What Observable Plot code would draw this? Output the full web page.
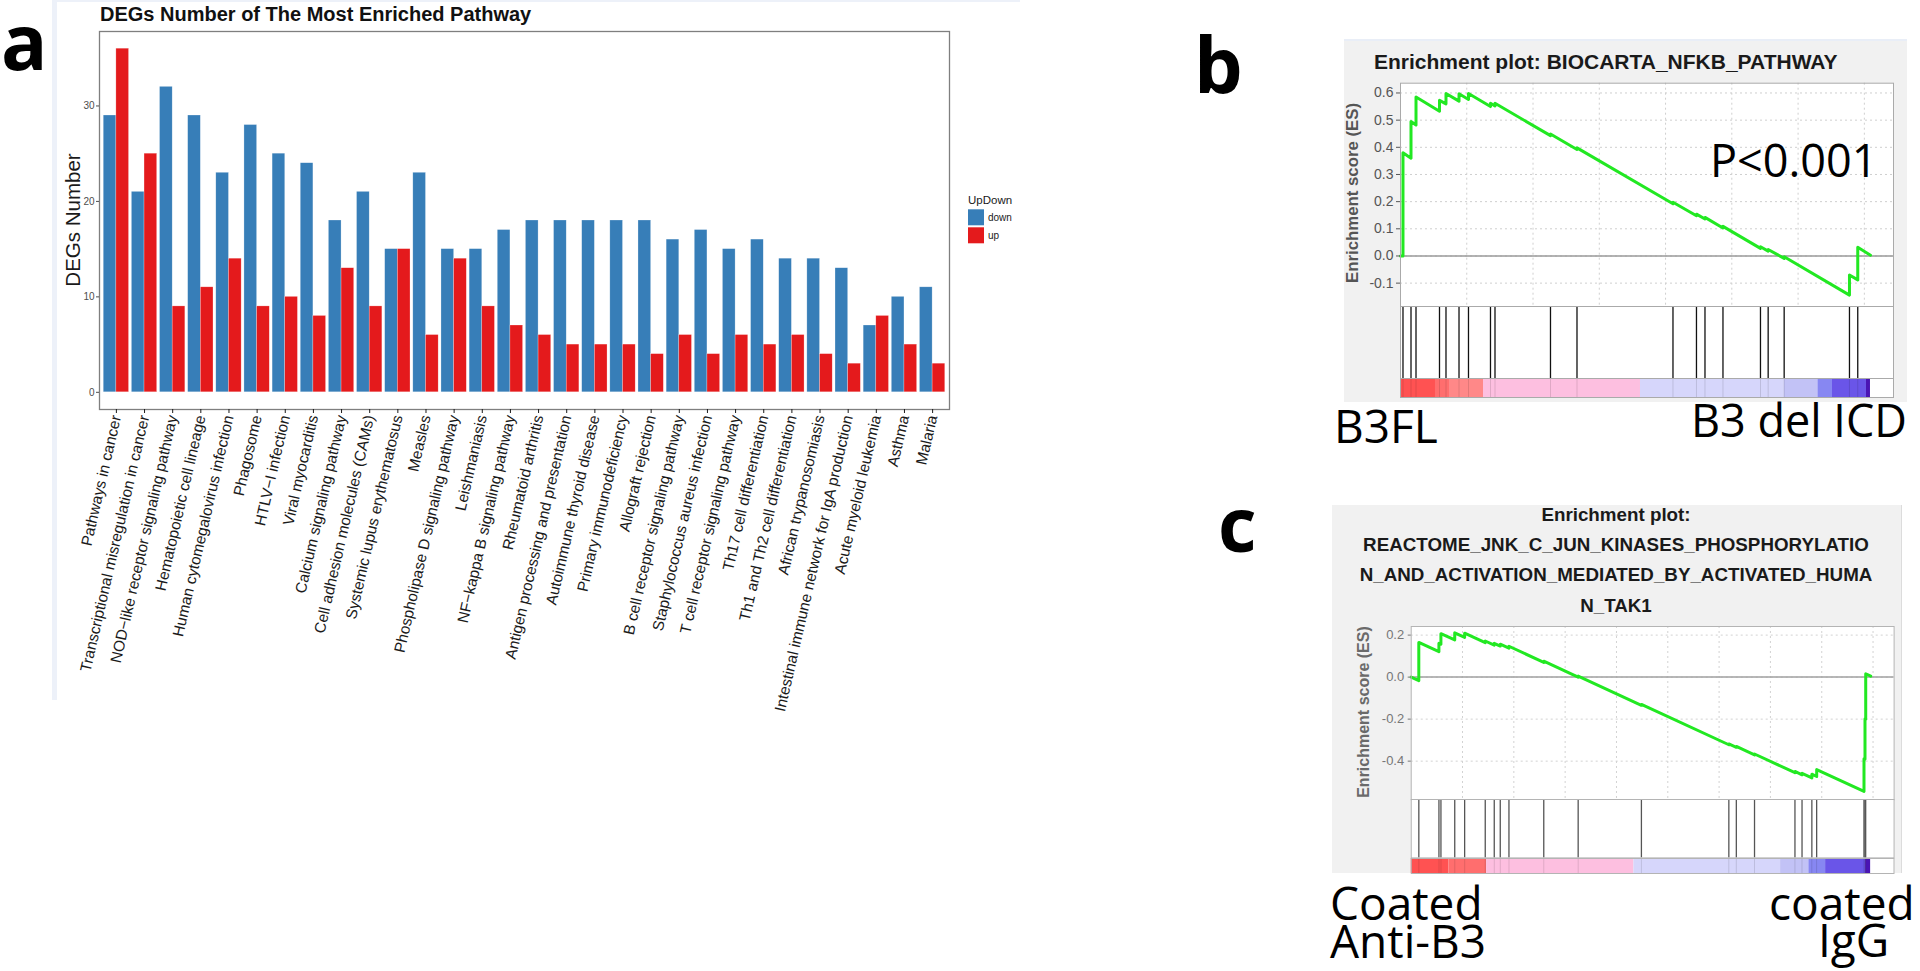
<!DOCTYPE html>
<html><head><meta charset="utf-8">
<script src="https://cdn.jsdelivr.net/npm/d3@7"></script>
<script src="https://cdn.jsdelivr.net/npm/@observablehq/plot@0.6"></script>
<style>
html,body{margin:0;padding:0;background:#fff;}
#root{position:relative;width:1920px;height:971px;overflow:hidden;font-family:"Liberation Sans",Arial,sans-serif;}
</style></head><body><div id="root"></div>
<script>
// ---------- Panel a data ----------
const categories = ["Pathways in cancer","Transcriptional misregulation in cancer","NOD\u2212like receptor signaling pathway","Hematopoietic cell lineage","Human cytomegalovirus infection","Phagosome","HTLV\u2212I infection","Viral myocarditis","Calcium signaling pathway","Cell adhesion molecules (CAMs)","Systemic lupus erythematosus","Measles","Phospholipase D signaling pathway","Leishmaniasis","NF\u2212kappa B signaling pathway","Rheumatoid arthritis","Antigen processing and presentation","Autoimmune thyroid disease","Primary immunodeficiency","Allograft rejection","B cell receptor signaling pathway","Staphylococcus aureus infection","T cell receptor signaling pathway","Th17 cell differentiation","Th1 and Th2 cell differentiation","African trypanosomiasis","Intestinal immune network for IgA production","Acute myeloid leukemia","Asthma","Malaria"];
const downCounts = [29,21,32,29,23,28,25,24,18,21,15,23,15,15,17,18,18,18,18,18,16,17,15,16,14,14,13,7,10,11];
const upCounts   = [36,25,9,11,14,9,10,8,13,9,15,6,14,9,7,6,5,5,5,4,6,4,6,5,6,4,3,8,5,3];
const groups = ["down","up"];
const groupColors = ["#377EB8","#E41A1C"];
const yTicksA = [0,10,20,30];

// ---------- Panel b data (GSEA running ES, BIOCARTA_NFKB_PATHWAY) ----------
const bRank = [0,75,75,317,317,468,468,1177,1177,1373,1373,1766,1766,2052,2052,2716,2716,2852,2852,4527,4527,5327,5327,8224,8224,8933,8933,9190,9190,9733,9733,10865,10865,11097,11097,11580,11580,13551,13551,13801,13801,14185];
const bES = [0,0,0.38,0.36,0.495,0.482,0.585,0.533,0.573,0.56,0.598,0.57,0.597,0.576,0.598,0.55,0.562,0.552,0.562,0.443,0.449,0.392,0.398,0.192,0.198,0.148,0.154,0.136,0.142,0.103,0.109,0.028,0.034,0.018,0.024,-0.009,-0.003,-0.144,-0.07,-0.088,0.032,0.003];
const bHits = [75,317,468,1177,1373,1766,2052,2716,2852,4527,5327,8224,8933,9190,9733,10865,11097,11580,13551,13801];
const bBarStart = [0,1056,1479,2505,7243,11580,12600,13038,14064];
const bBarEnd   = [1056,1479,2505,7243,11580,12600,13038,14064,14185];
const bBarLevel = ["pos3","pos2","pos1","pos0","neg0","neg1","neg2","neg3","neg4"];
const bYTicks = [-0.1,0,0.1,0.2,0.3,0.4,0.5,0.6];
const bGridX = [2000,4000,6000,8000,10000,12000,14000];
const bRankMax = 14880;

// ---------- Panel c data (GSEA running ES, REACTOME JNK) ----------
const cRank = [0,296,296,1080,1080,1158,1158,1696,1696,2082,2082,2885,2885,3236,3236,3470,3470,3809,3809,5166,5166,6507,6507,8972,8972,12380,12380,12672,12672,13381,13381,14957,14957,15233,15233,15616,15616,15803,15803,17647,17647,17686,17686,17714,17714,17909];
const cES = [0,-0.017,0.165,0.121,0.161,0.157,0.207,0.177,0.211,0.189,0.209,0.164,0.172,0.152,0.161,0.148,0.157,0.138,0.147,0.070,0.076,0.000,0.005,-0.134,-0.130,-0.322,-0.318,-0.334,-0.330,-0.370,-0.366,-0.455,-0.449,-0.465,-0.458,-0.480,-0.462,-0.473,-0.440,-0.544,-0.389,-0.391,-0.198,-0.200,0.016,0.005];
const cHits = [296,1080,1158,1696,2082,2885,3236,3470,3809,5166,6507,8972,12380,12672,13381,14957,15233,15616,15803,17647,17686,17714];
const cBarStart = [0,1466,2936,8679,14399,15502,16154,17714];
const cBarEnd   = [1466,2936,8679,14399,15502,16154,17714,17909];
const cBarLevel = ["pos3","pos2","pos0","neg0","neg1","neg2","neg3","neg4"];
const cYTicks = [-0.4,-0.2,0,0.2];
const cGridX = [2000,4000,6000,8000,10000,12000,14000,16000,18000];
const cRankMax = 18820;

const heatLevels = ["pos3","pos2","pos1","pos0","neg0","neg1","neg2","neg3","neg4"];
const heatColors = ["#ff5252","#ff6e6e","#ff8888","#fdbfe0","#d6d6fb","#c2c2f6","#8787f2","#6a55e8","#4a14b4"];

const SANS = '"Liberation Sans", Arial, sans-serif';
const BIG = '"Open Sans", "Noto Sans", sans-serif';
const root = document.getElementById("root");
function place(el, left, top){ el.style.position="absolute"; el.style.left=left+"px"; el.style.top=top+"px"; el.style.overflow="visible"; el.style.maxWidth="none"; root.appendChild(el); return el; }
function box(left, top, w, h, bg, extra){ const d=document.createElement("div"); d.style.cssText=`position:absolute;left:${left}px;top:${top}px;width:${w}px;height:${h}px;background:${bg};${extra||""}`; root.appendChild(d); return d; }

// ---------- Panel a ----------
const rows = categories.flatMap((c,i)=>[{i, g:"down", v: downCounts[i]},{i, g:"up", v: upCounts[i]}]);
const plotA = Plot.plot({
  width: 1020, height: 730,
  marginLeft: 99, marginRight: 71, marginTop: 31, marginBottom: 321,
  style: {fontFamily: SANS, background: "transparent", overflow: "visible"},
  x: {domain: [-0.6, categories.length - 0.4]},
  y: {domain: [-1.8, 37.8]},
  color: {domain: groups, range: groupColors},
  marks: [
    Plot.rectY(rows, {x1: d => d.i + (d.g === "down" ? -0.45 : 0), x2: d => d.i + (d.g === "down" ? 0 : 0.45), y: "v", fill: "g", stroke: "#ffffff", strokeWidth: 0.5, strokeOpacity: 0.5}),
    Plot.frame({stroke: "#7f7f7f", strokeWidth: 1.3}),
    Plot.axisY({ticks: yTicksA, tickSize: 3, tickPadding: 2, fontSize: 10, color: "#4d4d4d", label: null}),
    Plot.axisX({ticks: d3.range(categories.length), tickFormat: i => categories[i], tickRotate: -77, tickSize: 4, tickPadding: 2, fontSize: 15.4, color: "#1a1a1a", label: null})
  ]
});
place(plotA, 0, 0);

// ---------- Panel b ----------
box(1344, 39, 563, 363, "#f1f1f1", "border-top:2px solid #e9eef7;box-sizing:border-box;");
const bCurve = bRank.map((r,k)=>({rank:r, es:bES[k]}));
const bXs = {domain: [0, bRankMax], axis: null};
const esB = Plot.plot({
  width: 563, height: 231, marginLeft: 56, marginRight: 14, marginTop: 7.7, marginBottom: 0,
  style: {fontFamily: SANS, background: "transparent", overflow: "visible"},
  x: bXs, y: {domain: [-0.186, 0.636]},
  marks: [
    Plot.frame({fill: "white"}),
    Plot.gridX(bGridX, {stroke: "#cfcfcf", strokeOpacity: 1, strokeDasharray: "2,3"}),
    Plot.gridY(bYTicks, {stroke: "#cfcfcf", strokeOpacity: 1, strokeDasharray: "2,3"}),
    Plot.ruleY([0], {stroke: "#9a9a9a", strokeWidth: 1.5}),
    Plot.line(bCurve, {x: "rank", y: "es", stroke: "#22e822", strokeWidth: 3}),
    Plot.frame({stroke: "#aaaaaa"}),
    Plot.axisY({ticks: bYTicks, tickFormat: d => d.toFixed(1), fontSize: 14, color: "#555", tickSize: 4, tickPadding: 3, label: null})
  ]
});
place(esB, 1344, 75);
const hitB = Plot.plot({
  width: 563, height: 72, marginLeft: 56, marginRight: 14, marginTop: 0, marginBottom: 0,
  style: {background: "transparent", overflow: "visible"}, x: bXs,
  marks: [Plot.frame({fill: "white"}), Plot.ruleX(bHits, {stroke: "#111", strokeWidth: 1.3}), Plot.frame({stroke: "#aaaaaa"})]
});
place(hitB, 1344, 306);
const bBarRows = bBarStart.map((s,k)=>({start:s, end:bBarEnd[k], level:bBarLevel[k]}));
const barB = Plot.plot({
  width: 563, height: 22, marginLeft: 56, marginRight: 14, marginTop: 0, marginBottom: 3,
  style: {background: "transparent", overflow: "visible"}, x: bXs,
  color: {domain: heatLevels, range: heatColors},
  marks: [Plot.frame({fill: "white"}), Plot.rect(bBarRows, {x1: "start", x2: "end", fill: "level"}), Plot.ruleX(bHits, {stroke: "#000", strokeOpacity: 0.12}), Plot.frame({stroke: "#aaaaaa"})]
});
place(barB, 1344, 378);

// ---------- Panel c ----------
box(1332, 505, 570, 368.3, "#f1f1f1", "border-right:1px solid #dcdcdc;box-sizing:border-box;");
const cCurve = cRank.map((r,k)=>({rank:r, es:cES[k]}));
const cXs = {domain: [0, cRankMax], axis: null};
const esC = Plot.plot({
  width: 570, height: 179.3, marginLeft: 78.7, marginRight: 8.4, marginTop: 6, marginBottom: 0,
  style: {fontFamily: SANS, background: "transparent", overflow: "visible"},
  x: cXs, y: {domain: [-0.584, 0.241]},
  marks: [
    Plot.frame({fill: "white"}),
    Plot.gridX(cGridX, {stroke: "#d2d2d2", strokeOpacity: 1, strokeDasharray: "2,3"}),
    Plot.gridY(cYTicks, {stroke: "#d2d2d2", strokeOpacity: 1, strokeDasharray: "2,3"}),
    Plot.ruleY([0], {stroke: "#a0a0a0", strokeWidth: 1.5}),
    Plot.line(cCurve, {x: "rank", y: "es", stroke: "#22e822", strokeWidth: 3}),
    Plot.frame({stroke: "#b4b4b4"}),
    Plot.axisY({ticks: cYTicks, tickFormat: d => d.toFixed(1), fontSize: 13, color: "#777", tickSize: 3, tickPadding: 4, label: null})
  ]
});
place(esC, 1332, 620);
const hitC = Plot.plot({
  width: 570, height: 58.4, marginLeft: 78.7, marginRight: 8.4, marginTop: 0, marginBottom: 0,
  style: {background: "transparent", overflow: "visible"}, x: cXs,
  marks: [Plot.frame({fill: "white"}), Plot.ruleX(cHits, {stroke: "#555", strokeWidth: 1.3}), Plot.frame({stroke: "#b4b4b4"})]
});
place(hitC, 1332, 799.3);
const cBarRows = cBarStart.map((s,k)=>({start:s, end:cBarEnd[k], level:cBarLevel[k]}));
const barC = Plot.plot({
  width: 570, height: 15.6, marginLeft: 78.7, marginRight: 8.4, marginTop: 0, marginBottom: 0.6,
  style: {background: "transparent", overflow: "visible"}, x: cXs,
  color: {domain: heatLevels, range: heatColors},
  marks: [Plot.frame({fill: "white"}), Plot.rect(cBarRows, {x1: "start", x2: "end", fill: "level"}), Plot.ruleX(cHits, {stroke: "#000", strokeOpacity: 0.12}), Plot.frame({stroke: "#b4b4b4"})]
});
place(barC, 1332, 857.7);

// ---------- Text overlay ----------
const ov = d3.create("svg").attr("width",1920).attr("height",971)
  .style("position","absolute").style("left","0").style("top","0").style("pointer-events","none");
function txt(x, y, s, o){
  const t = ov.append("text").attr("x",x).attr("y",y).text(s)
    .attr("font-family", o.font || SANS).attr("font-size", o.size).attr("font-weight", o.weight || 400)
    .attr("fill", o.fill || "#000").attr("text-anchor", o.anchor || "start");
  if (o.rotate) t.attr("transform", `rotate(${o.rotate},${x},${y})`);
  return t;
}
// panel a decorations
ov.append("rect").attr("x",52).attr("y",0).attr("width",5).attr("height",700).attr("fill","#edf1f9");
ov.append("rect").attr("x",52).attr("y",0).attr("width",968).attr("height",2).attr("fill","#edf1f9");
txt(1, 70, "a", {font: BIG, size: 77, weight: 700});
txt(100, 21, "DEGs Number of The Most Enriched Pathway", {size: 20, weight: 700, fill: "#111"});
txt(79.5, 220, "DEGs Number", {size: 20.5, fill: "#1a1a1a", anchor: "middle", rotate: -90});
txt(968, 204, "UpDown", {size: 11.5, fill: "#1a1a1a"});
groups.forEach((g,k)=>{
  ov.append("rect").attr("x",968).attr("y",209.3 + k*18).attr("width",16).attr("height",16).attr("fill",groupColors[k]);
  txt(988, 221 + k*18, g, {size: 10, fill: "#1a1a1a"});
});
// panel b
txt(1194, 93, "b", {font: BIG, size: 77, weight: 700});
txt(1374, 69.3, "Enrichment plot: BIOCARTA_NFKB_PATHWAY", {size: 21, weight: 700, fill: "#1a1a1a"});
txt(1358, 193, "Enrichment score (ES)", {size: 16.8, weight: 700, fill: "#555", anchor: "middle", rotate: -90});
txt(1710, 177, "P<0.001", {font: BIG, size: 45});
txt(1334, 443, "B3FL", {font: BIG, size: 46});
txt(1691, 437, "B3 del ICD", {font: BIG, size: 45});
// panel c
txt(1218, 552, "c", {font: BIG, size: 75, weight: 700});
["Enrichment plot:","REACTOME_JNK_C_JUN_KINASES_PHOSPHORYLATIO","N_AND_ACTIVATION_MEDIATED_BY_ACTIVATED_HUMA","N_TAK1"].forEach((s,k)=>{
  txt(1616, 521 + k*30.2, s, {size: 18.8, weight: 700, fill: "#1a1a1a", anchor: "middle"});
});
txt(1369, 712, "Enrichment score (ES)", {size: 16, weight: 700, fill: "#6a6a6a", anchor: "middle", rotate: -90});
txt(1330, 920, "Coated", {font: BIG, size: 46});
txt(1330, 958, "Anti-B3", {font: BIG, size: 46});
txt(1769, 920, "coated", {font: BIG, size: 46});
txt(1818, 957, "IgG", {font: BIG, size: 46});
root.appendChild(ov.node());
</script></body></html>
